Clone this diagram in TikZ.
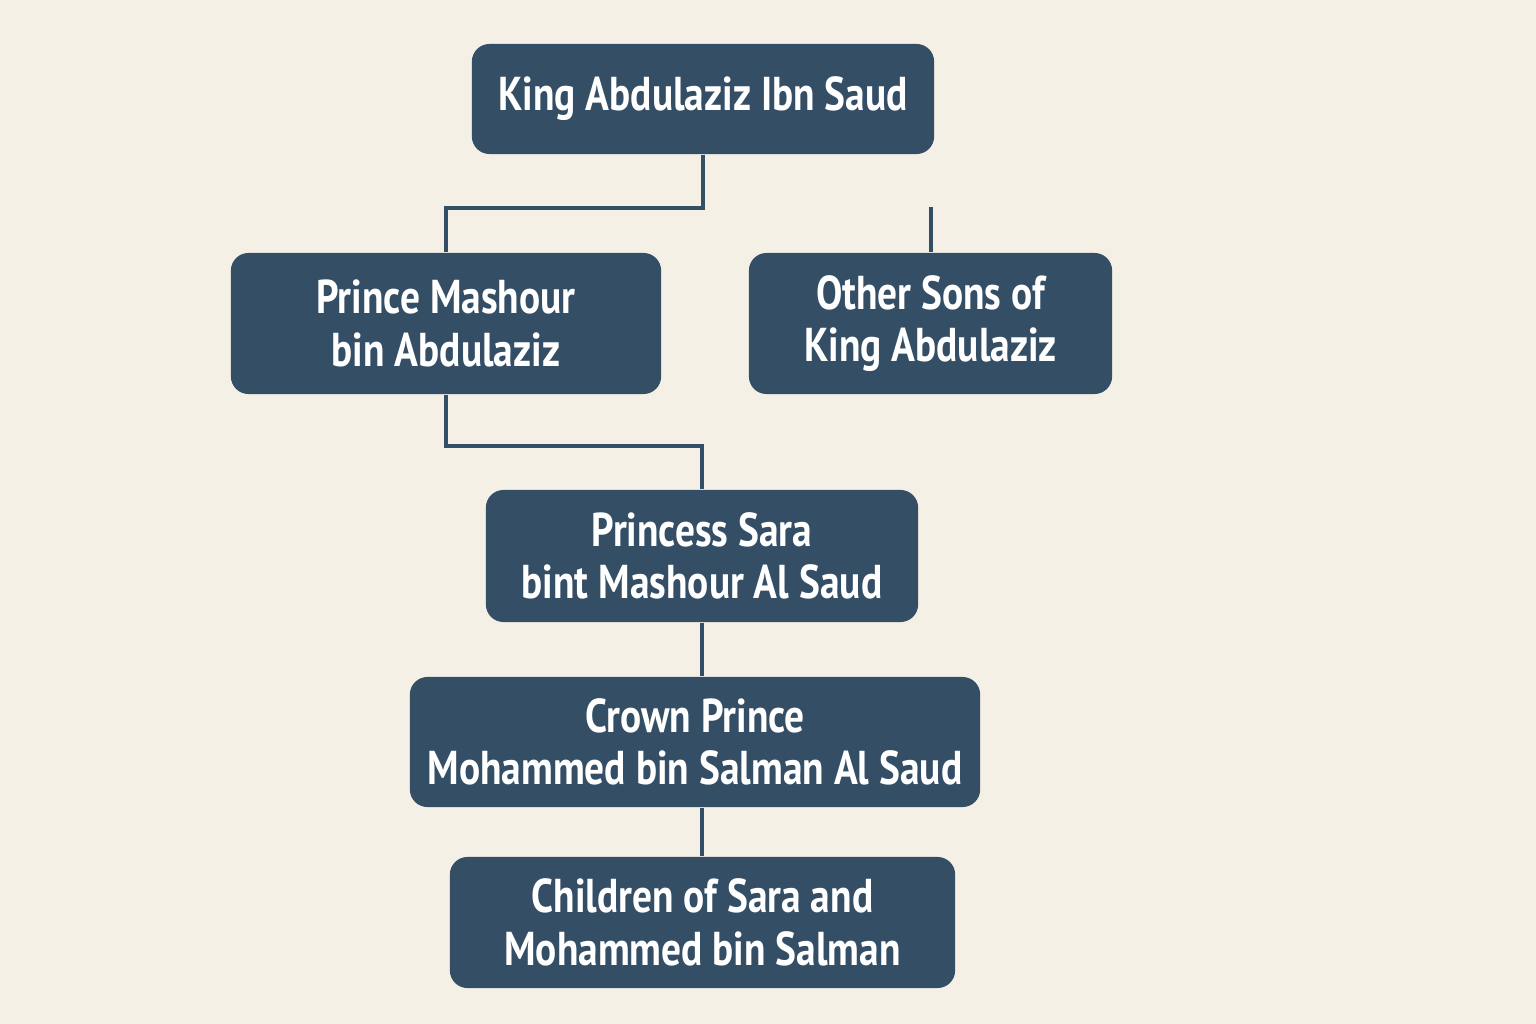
\documentclass[tikz,border=0pt]{standalone}
\usepackage{fontspec}
\setmainfont{PT Sans}[FakeStretch=0.83]
\usepackage{tikz}

\definecolor{bgcream}{HTML}{F5F0E6}
\definecolor{slate}{HTML}{344E66}

\tikzset{
  person/.style={draw=none, fill=slate, rounded corners=5pt, text=white,
    align=center, font=\fontsize{13.5}{15}\selectfont\bfseries, inner sep=0pt},
  link/.style={draw=slate, line width=1.2pt}
}

\begin{document}
\begin{tikzpicture}[x=0.01cm, y=-0.01cm]
        % Arka plan
        \fill[bgcream] (0,0) rectangle (1536,1024);
        \useasboundingbox (0,0) rectangle (1536,1024);

        % Kutular
        \node[person, minimum width=4.62cm, minimum height=1.10cm] (king) at (703,99) {King Abdulaziz Ibn Saud};
        \node[person, minimum width=4.30cm, minimum height=1.41cm] (mashour) at (446,323.5) {Prince Mashour\\bin Abdulaziz};
        \node[person, minimum width=3.63cm, minimum height=1.41cm] (others) at (930.5,323.5) {Other Sons of\\King Abdulaziz};
        \node[person, minimum width=4.32cm, minimum height=1.32cm] (sara) at (702,556) {Princess Sara\\bint Mashour Al Saud};
        \node[person, minimum width=5.70cm, minimum height=1.30cm] (crown) at (695,742) {Crown Prince\\Mohammed bin Salman Al Saud};
        \node[person, minimum width=5.05cm, minimum height=1.31cm] (children) at (702.5,922.5) {Children of Sara and\\Mohammed bin Salman};

        % Baglantilar
        \coordinate (otherstop) at (931,207);
        \draw[link] (king.south) -- ++(0,53) -| (mashour.north);
        \draw[link] (otherstop) -- (otherstop |- others.north);
        \draw[link] (mashour.south) -- ++(0,51) -| (sara.north);
        \draw[link] (sara.south) -- (sara.south |- crown.north);
        \draw[link] (sara.south |- crown.south) -- (sara.south |- children.north);

    \end{tikzpicture}
\end{document}
